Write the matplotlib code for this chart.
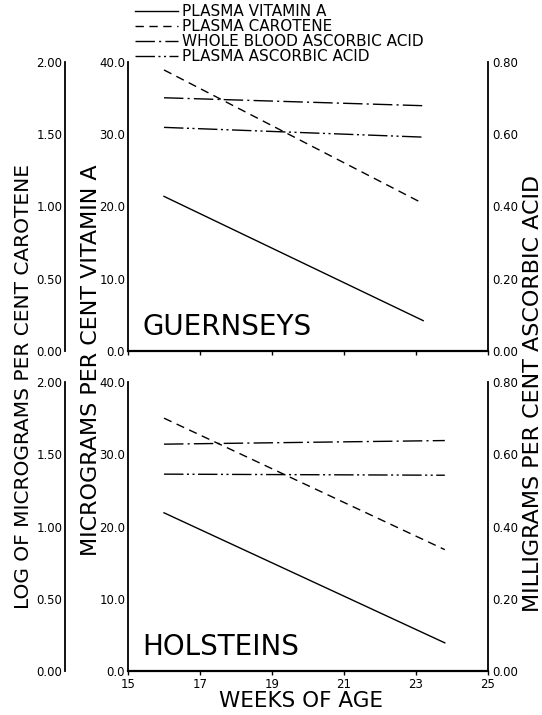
import matplotlib.pyplot as plt

plt.rcParams['font.family'] = 'DejaVu Sans'
plt.rcParams['lines.scale_dashes'] = False

# weeks of age at start and end of each trend line
weeks_guernsey = [16.0, 23.2]
weeks_holstein = [16.0, 23.8]

# micrograms per cent vitamin A
vit_a_guernsey = [21.4, 4.2]
vit_a_holstein = [21.9, 3.9]

# log of micrograms per cent carotene
carotene_guernsey = [1.945, 1.02]
carotene_holstein = [1.75, 0.84]

# milligrams per cent ascorbic acid
whole_blood_guernsey = [0.701, 0.679]
whole_blood_holstein = [0.628, 0.638]
plasma_aa_guernsey = [0.619, 0.592]
plasma_aa_holstein = [0.545, 0.542]

x_ticks = [15, 17, 19, 21, 23, 25]
vit_a_ticks = [0, 10, 20, 30, 40]
vit_a_labels = ["0.0", "10.0", "20.0", "30.0", "40.0"]
car_ticks = [0, 0.5, 1.0, 1.5, 2.0]
car_labels = ["0.00", "0.50", "1.00", "1.50", "2.00"]
aa_ticks = [0, 0.2, 0.4, 0.6, 0.8]
aa_labels = ["0.00", "0.20", "0.40", "0.60", "0.80"]

legend_labels = ["PLASMA VITAMIN A", "PLASMA CAROTENE",
                 "WHOLE BLOOD ASCORBIC ACID", "PLASMA ASCORBIC ACID"]

st_vit = '-'
st_car = (0, (6, 4))
st_wb = (0, (14, 3, 1.5, 3))
st_pl = (0, (14, 2.5, 1.5, 2.5, 1.5, 2.5))

panels = [
    ("GUERNSEYS", weeks_guernsey, vit_a_guernsey, carotene_guernsey,
     whole_blood_guernsey, plasma_aa_guernsey, 0.5091),
    ("HOLSTEINS", weeks_holstein, vit_a_holstein, carotene_holstein,
     whole_blood_holstein, plasma_aa_holstein, 0.0615),
]

fig = plt.figure(figsize=(5.42, 7.15), dpi=100)
left = 128 / 542
width = 360 / 542
height = 289 / 715
lw = 1.0
tick_fs = 8.5

handles = None
for i, (name, wk, va, car, wb, pl, bottom) in enumerate(panels):
    ax = fig.add_axes([left, bottom, width, height])
    ax.set_xlim(15, 25)
    ax.set_ylim(0, 40)
    for s in ['top', 'right']:
        ax.spines[s].set_visible(False)
    ax.spines['left'].set_linewidth(1.3)
    ax.spines['bottom'].set_linewidth(1.6)
    ax.set_xticks(x_ticks)
    ax.set_yticks(vit_a_ticks, vit_a_labels)
    ax.tick_params(axis='y', length=0, pad=2, labelsize=tick_fs)
    ax.tick_params(axis='x', length=3, width=1, pad=2, labelsize=tick_fs)
    if i == 0:
        ax.tick_params(axis='x', labelbottom=False)
    else:
        ax.set_xlabel("WEEKS OF AGE", fontsize=15.5, labelpad=0)
        ax.xaxis.set_label_coords(0.48, -0.07)

    car_ax = ax.twinx()
    car_ax.set_ylim(0, 2.0)
    car_ax.yaxis.tick_left()
    for s in ['top', 'right', 'bottom']:
        car_ax.spines[s].set_visible(False)
    car_ax.spines['left'].set_position(('axes', -0.175))
    car_ax.spines['left'].set_linewidth(1.3)
    car_ax.set_yticks(car_ticks, car_labels)
    car_ax.tick_params(axis='y', length=0, pad=2, labelsize=tick_fs)

    aa_ax = ax.twinx()
    aa_ax.set_ylim(0, 0.8)
    for s in ['top', 'left', 'bottom']:
        aa_ax.spines[s].set_visible(False)
    aa_ax.spines['right'].set_linewidth(1.3)
    aa_ax.set_yticks(aa_ticks, aa_labels)
    aa_ax.tick_params(axis='y', length=0, pad=3, labelsize=tick_fs)

    h1, = ax.plot(wk, va, color='black', lw=lw, ls=st_vit)
    h2, = car_ax.plot(wk, car, color='black', lw=lw, ls=st_car)
    h3, = aa_ax.plot(wk, wb, color='black', lw=lw, ls=st_wb)
    h4, = aa_ax.plot(wk, pl, color='black', lw=lw, ls=st_pl)
    if handles is None:
        handles = [h1, h2, h3, h4]

    ax.text(0.04, 0.055, name, transform=ax.transAxes, fontsize=20,
            ha='left', va='baseline')

fig.legend(handles, legend_labels, loc='upper left',
           bbox_to_anchor=(135 / 542, 1 - 4 / 715), frameon=False,
           fontsize=11, handlelength=2.8, handletextpad=0.3,
           labelspacing=0.0, borderpad=0, borderaxespad=0)

fig.text(0.044, 0.4594, "LOG OF MICROGRAMS PER CENT CAROTENE",
         rotation=90, fontsize=14.5, ha='center', va='center')
fig.text(0.168, 0.4965, "MICROGRAMS PER CENT VITAMIN A",
         rotation=90, fontsize=16, ha='center', va='center')
fig.text(0.984, 0.45, "MILLIGRAMS PER CENT ASCORBIC ACID",
         rotation=90, fontsize=16, ha='center', va='center')

fig.savefig("out.png", dpi=100)
